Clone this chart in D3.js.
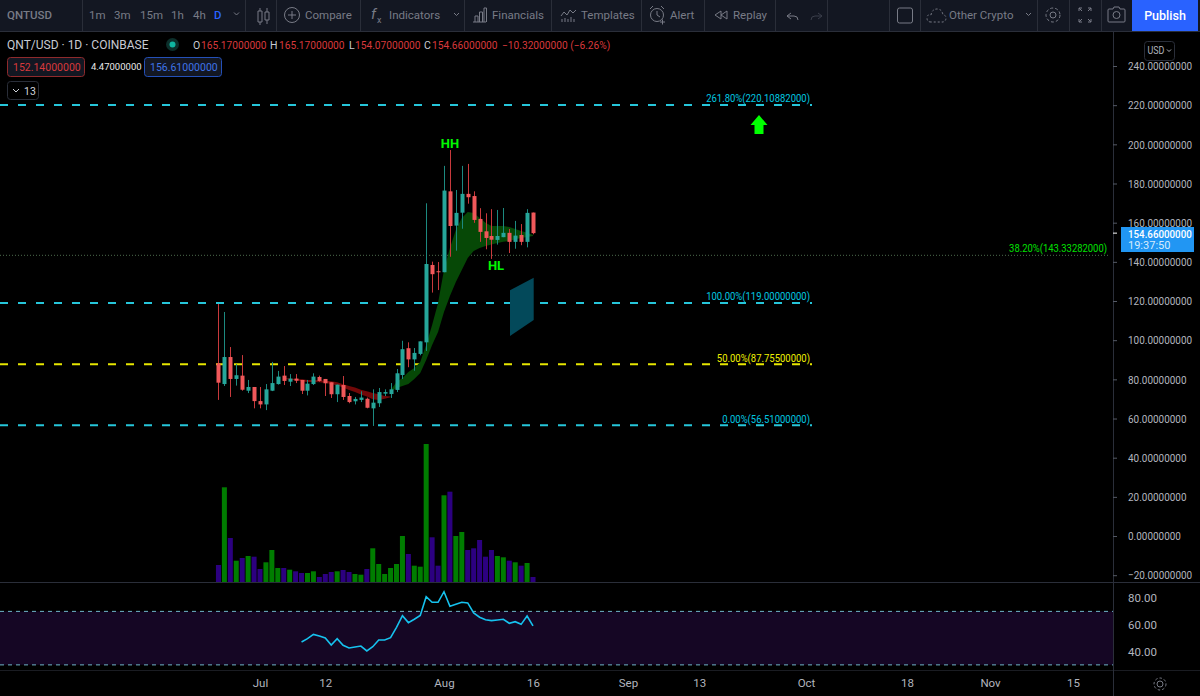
<!DOCTYPE html>
<html><head><meta charset="utf-8">
<script src="https://cdn.jsdelivr.net/npm/d3@7"></script>
<style>html,body{margin:0;padding:0;background:#000;overflow:hidden}svg{display:block}text{font-family:Roboto,sans-serif}</style>
</head><body><svg id="c" width="1200" height="696"></svg>
<script>
const opens =[88.2,77.6,91.4,80.2,81.9,74.2,76.1,68.9,67.2,74.2,77.6,81.9,78.8,80.4,79.7,74.2,77.6,81.2,80.2,78.5,72.4,77.1,71.5,68.8,69.5,70.1,65.2,67.8,72.7,72.5,74.6,82.2,95.9,90.2,93.0,98.9,138.4,135.2,134.7,176.0,158.5,165.1,174.7,173.6,161.9,155.6,153.2,151.2,152.6,154.8,150.2,153.7,150.2,165.17];
const highs =[118.5,114.4,96.5,87.8,92.4,79.7,76.1,76.1,77.6,88.9,84.3,86.8,82.7,82.7,79.7,79.7,83.1,81.9,80.2,78.5,77.3,81.7,73.0,71.0,73.9,70.7,74.9,75.6,74.9,78.1,85.3,99.7,98.9,96.0,99.4,169.9,140.1,139.9,189.0,197.1,176.7,189.0,190.0,176.0,167.4,164.8,166.9,166.5,167.5,156.8,160.9,159.3,166.9,165.17];
const lows  =[69.5,76.6,71.0,76.8,74.2,73.0,65.2,65.2,64.3,74.0,77.3,77.1,76.6,78.1,72.5,71.8,77.1,78.8,71.5,70.5,68.4,69.5,67.8,67.2,68.4,65.2,56.2,65.9,71.5,70.5,73.5,80.2,86.2,84.4,92.3,94.5,124.3,125.6,134.7,142.6,145.7,156.9,169.7,159.9,150.2,146.4,141.5,148.8,152.6,144.5,146.7,148.5,147.4,154.07];
const closes=[78.3,91.4,80.2,82.1,74.7,76.1,68.9,67.2,74.9,78.1,81.4,79.2,80.4,79.3,74.2,77.8,81.4,79.2,78.0,72.4,77.3,71.0,68.4,70.0,70.7,65.5,68.1,73.5,73.5,74.9,83.1,95.4,90.2,93.5,99.4,138.9,133.7,134.8,176.4,158.3,165.0,174.7,173.0,161.4,155.3,152.2,151.3,153.2,154.8,150.2,153.4,150.2,165.0,154.66];
const volumes=[17,94.7,44,21.3,24,26,25.3,13,19.7,32,14,14,12.3,10.7,9,9,10.7,5,8,10,10.7,12,10,8,7.3,13,33.7,18,8,14,18,46,28,16.3,15.3,138,44.7,16.3,86.7,90.3,46,50,32,33.7,42,25.3,32,26,24.7,21.3,19.7,16.3,19,5];
const volumeUp=[0,1,0,1,0,1,0,0,1,1,1,0,1,0,0,1,1,0,0,0,1,0,0,1,1,0,1,1,1,1,1,1,0,1,1,1,0,0,1,0,1,1,0,0,0,0,0,1,1,0,1,0,1,0];
const greenStart=29;
const greenUpper=[74.5,78.6,80.7,83.8,85.8,88.9,97.6,107.8,119,135.9,147.1,156.3,162.4,165.5,165,162.4,159.9,158.3,158.3,158.3,157.8,156.8,155.8,154.8,153.7];
const greenLower=[73.5,75.6,76.6,77.6,80.2,83.3,89.9,97.6,104.2,114.4,122.6,129.7,135.9,142,145.6,147.1,148.1,148.9,149.6,150.2,150.7,151.5,152.2,152.7,153.2];
const redStart=11;
const redUpper=[80.7,80.4,80.2,80,79.7,79.7,79.5,79.3,79,78.5,77.5,76.6,75.8,74.7,73.9,73,72.4,71.5,71.2];
const redLower=[80.4,79.8,79.5,79,78.6,78.6,78.5,78.1,77.6,76.9,75.8,74.6,73.5,72.3,71.2,69.8,69.5,70.1,70.8];
const rsiStart=14;
const rsiValues=[47.1,49.6,52.8,51.6,50.1,44.9,49.6,44.6,42.6,43.4,44.1,40.4,43.6,48.6,48.6,50.3,58.1,66.8,61.6,64.1,67.0,81.0,76.8,76.8,84.7,73.8,75.3,76.8,76.3,68.8,65.6,63.8,63.1,63.6,64.1,61.1,62.3,60.3,66.5,59.1];
const priceTicks=[240,220,200,180,160,140,120,100,80,60,40,20,0,-20];
const rsiTicks=[80,60,40];
const fibLevels=[
 {value:220.10882,label:"261.80%(220.10882000)",color:"#00c8e0",lineColor:"#26c6da"},
 {value:119,label:"100.00%(119.00000000)",color:"#00c8e0",lineColor:"#26c6da"},
 {value:87.755,label:"50.00%(87.75500000)",color:"#f0f000",lineColor:"#e6e600"},
 {value:56.51,label:"0.00%(56.51000000)",color:"#00c8e0",lineColor:"#26c6da"}];
const fib382={value:143.33282,label:"38.20%(143.33282000)"};
const timeTicks=[[2021,6,1,"Jul"],[2021,6,12,"12"],[2021,7,1,"Aug"],[2021,7,16,"16"],[2021,8,1,"Sep"],[2021,8,13,"13"],[2021,9,1,"Oct"],[2021,9,18,"18"],[2021,10,1,"Nov"],[2021,10,15,"15"]];
const firstDay=Date.UTC(2021,5,24);
const dayMs=864e5;

const svg=d3.select("#c");
const x=d3.scaleUtc().domain([Date.UTC(2021,6,1),Date.UTC(2021,10,1)]).range([260,990]);
const y=d3.scaleLinear().domain([-20,240]).range([575.2,66]);
const yV=d3.scaleLinear().domain([0,138]).range([582,444]);
const yR=d3.scaleLinear().domain([40,80]).range([651.5,598]);
const xi=i=>x(firstDay+i*dayMs);
const bull="#26a69a",bear="#f0585a";
// squeeze a text horizontally: the reference font is narrower than Roboto
function narrow(sel,k){sel.each(function(){const t=d3.select(this);const x0=+t.attr("x")||0;t.attr("x",x0/k).attr("transform",`scale(${k},1)`);});return sel;}

svg.append("rect").attr("width",1200).attr("height",696).attr("fill","#000");

// RSI band
svg.append("rect").attr("x",0).attr("width",1113).attr("y",yR(70)).attr("height",yR(30)-yR(70)).attr("fill","#150624");
[70,30].forEach(v=>svg.append("line").attr("x1",0).attr("x2",1113).attr("y1",yR(v)).attr("y2",yR(v)).attr("stroke","#6fb4c8").attr("stroke-width",1).attr("stroke-dasharray","4 4"));

// fib lines
fibLevels.forEach(f=>{
 svg.append("line").attr("x1",0).attr("x2",812).attr("y1",y(f.value)).attr("y2",y(f.value)).attr("stroke",f.lineColor).attr("stroke-width",2).attr("stroke-dasharray","8 10");
 svg.append("text").attr("x",810).attr("y",y(f.value)-2.5).attr("text-anchor","end").attr("fill",f.color).attr("font-size",10.5).text(f.label).call(narrow,0.905);
});
svg.append("line").attr("x1",0).attr("x2",1110).attr("y1",y(fib382.value)).attr("y2",y(fib382.value)).attr("stroke","#4d6b4d").attr("stroke-width",1).attr("stroke-dasharray","1 2");
svg.append("text").attr("x",1107).attr("y",y(fib382.value)-3).attr("text-anchor","end").attr("fill","#00e000").attr("font-size",10.5).text(fib382.label).call(narrow,0.9);

// clouds
const cloud=d3.area().x(d=>xi(d.i)).y0(d=>y(d.lo)).y1(d=>y(d.up));
svg.append("path").attr("d",cloud(redUpper.map((u,k)=>({i:redStart+k,up:u,lo:redLower[k]})))).attr("fill","#720808");
svg.append("path").attr("d",cloud(greenUpper.map((u,k)=>({i:greenStart+k,up:u,lo:greenLower[k]})))).attr("fill","#064806");

// teal box (projection zone)
svg.append("path").attr("d",d3.line()([[510,y(125.5)],[533.7,y(131.9)],[533.7,y(110.3)],[510,y(102.1)]])+"Z").attr("fill","#03495a");

// volume
svg.append("g").selectAll("rect").data(volumes).join("rect")
 .attr("x",(d,i)=>xi(i)-2.5).attr("width",5).attr("y",d=>yV(d)).attr("height",d=>yV(0)-yV(d))
 .attr("fill",(d,i)=>volumeUp[i]?"#007d00":"#2c0080");

// candles
const idx=d3.range(opens.length);
const g=svg.append("g");
g.selectAll("line").data(idx).join("line")
 .attr("x1",i=>Math.round(xi(i))+.5).attr("x2",i=>Math.round(xi(i))+.5)
 .attr("y1",i=>y(highs[i])).attr("y2",i=>y(lows[i]))
 .attr("stroke",i=>closes[i]>=opens[i]?"#1c8a80":"#c8393c").attr("stroke-width",1);
g.selectAll("rect").data(idx).join("rect")
 .attr("x",i=>Math.round(xi(i))-1.5).attr("width",4)
 .attr("y",i=>y(Math.max(opens[i],closes[i])))
 .attr("height",i=>Math.max(1,Math.abs(y(opens[i])-y(closes[i]))))
 .attr("fill",i=>closes[i]>=opens[i]?bull:bear);

// annotations
[["HH",450,148],["HL",496,270]].forEach(t=>svg.append("text").attr("x",t[1]).attr("y",t[2]).attr("text-anchor","middle").attr("fill","#00f800").attr("font-size",13).attr("font-weight",700).text(t[0]));
svg.append("path").attr("d","M759 115 L767.5 125 L763.5 125 L763.5 134 L754.5 134 L754.5 125 L750.5 125 Z").attr("fill","#00ff00");

// RSI line
svg.append("path").attr("fill","none").attr("stroke","#16c2ee").attr("stroke-width",1.6)
 .attr("d",d3.line().x((d,k)=>xi(rsiStart+k)).y(d=>yR(d))(rsiValues));

// pane separators & axis background
svg.append("rect").attr("x",1113).attr("y",31).attr("width",87).attr("height",665).attr("fill","#000");
svg.append("line").attr("x1",0).attr("x2",1113).attr("y1",582.5).attr("y2",582.5).attr("stroke","#2a2e39");
svg.append("line").attr("x1",0).attr("x2",1200).attr("y1",670.5).attr("y2",670.5).attr("stroke","#1a1c22");
svg.append("line").attr("x1",1113.5).attr("x2",1113.5).attr("y1",31).attr("y2",696).attr("stroke","#2a2e39");
svg.append("line").attr("x1",1113).attr("x2",1200).attr("y1",582.5).attr("y2",582.5).attr("stroke","#2a2e39");

// axes
function style(a){a.select(".domain").remove();a.selectAll("line").attr("stroke","#555a66");a.selectAll("text").attr("fill","#b2b5be").attr("font-size",11.5);}
svg.append("g").attr("transform","translate(1113,0)").call(d3.axisRight(y).tickValues(priceTicks).tickSize(4).tickPadding(11).tickFormat(d3.format(".8f"))).call(style)
 .selectAll("text").call(narrow,0.865);
svg.append("g").attr("transform","translate(1113,0)").call(d3.axisRight(yR).tickValues(rsiTicks).tickSize(0).tickPadding(15).tickFormat(d3.format(".2f"))).call(style);
const tDates=timeTicks.map(t=>Date.UTC(t[0],t[1],t[2]));
const tLabels=timeTicks.map(t=>t[3]);
svg.append("g").attr("transform","translate(0,672)").call(d3.axisBottom(x).tickValues(tDates).tickSize(0).tickPadding(7).tickFormat((d,i)=>tLabels[i])).call(style);

// last price label
svg.append("rect").attr("x",1121).attr("y",227).attr("width",73).attr("height",25).attr("fill","#2196f3");
svg.append("line").attr("x1",1113).attr("x2",1117).attr("y1",y(154.66)).attr("y2",y(154.66)).attr("stroke","#fff");
svg.append("text").attr("x",1128).attr("y",238).attr("fill","#fff").attr("font-size",11.5).attr("font-weight",500).text("154.66000000").call(narrow,0.85);
svg.append("text").attr("x",1128).attr("y",249).attr("fill","#d6ebfc").attr("font-size",11).text("19:37:50");

// usd box
svg.append("rect").attr("x",1144.5).attr("y",41.5).attr("width",30).attr("height",19).attr("rx",3).attr("fill","none").attr("stroke","#2a2e39");
svg.append("text").attr("x",1147.5).attr("y",54.5).attr("fill","#b2b5be").attr("font-size",10.5).text("USD").call(narrow,0.85);
svg.append("path").attr("d","M1167 49.5l2 2 2-2").attr("fill","none").attr("stroke","#b2b5be");

// top bar
const bar=svg.append("g");
bar.append("rect").attr("width",1200).attr("height",31).attr("fill","#131722");
bar.append("line").attr("x1",0).attr("x2",1200).attr("y1",31.5).attr("y2",31.5).attr("stroke","#2a2e39");
[82,245,276,360,464,551,641,704,775,827,889,920,1037,1069,1101].forEach(s=>bar.append("line").attr("x1",s+.5).attr("x2",s+.5).attr("y1",0).attr("y2",31).attr("stroke","#2a2e39"));
const gray="#787b86";
const tb=(t,xp,fill,w)=>bar.append("text").attr("x",xp).attr("y",19).attr("fill",fill||gray).attr("font-size",11.5).attr("font-weight",w||400).text(t);
tb("QNTUSD",7,gray,500);
[["1m",89],["3m",114],["15m",140],["1h",171],["4h",193]].forEach(d=>tb(d[0],d[1]));
tb("D",214,"#2962ff",500);
tb("Compare",305);tb("Indicators",389);tb("Financials",492);tb("Templates",581);tb("Alert",670);tb("Replay",733);tb("Other Crypto",949);
const icons=bar.append("g").attr("transform","translate(0,-2)");
const ic=d=>icons.append("path").attr("d",d).attr("fill","none").attr("stroke",gray).attr("stroke-width",1);
ic("M234 14.5l2.5 2.5 2.5-2.5");
ic("M454 15l2.5 2.5 2.5-2.5");
ic("M1026 15l2.5 2.5 2.5-2.5");
ic("M258 13h4v11h-4zM260 10v3M260 24v3M265 14h4v8h-4zM267 10v4M267 22v4");
icons.append("circle").attr("cx",292).attr("cy",17).attr("r",7.5).attr("fill","none").attr("stroke",gray);
ic("M288 17h8M292 13v8");
icons.append("text").attr("x",371).attr("y",21).attr("fill",gray).attr("font-size",15).attr("font-style","italic").text("f");
icons.append("text").attr("x",377).attr("y",25).attr("fill",gray).attr("font-size",9).text("x");
ic("M473 24h13M475 24v-6h3v6M479.5 24v-10h3v10M484 24v-14h2.500v14");
ic("M561 18l3-4 3 3 3-5 3 3 3-3M562 24v-3M565 24v-4M568 24v-3M571 24v-5M574 24v-3");
icons.append("circle").attr("cx",657).attr("cy",17).attr("r",6.500).attr("fill","none").attr("stroke",gray);
ic("M657 13v4l3 2M650 11l3-3M664 11l-3-3M660 24h5M662.500 21.500v5");
ic("M721 13l-6 4 6 4zM727 13l-6 4 6 4z");
ic("M791 15l-4 3 4 3M787 18h7q4 0 4 4");
icons.append("path").attr("d","M818 15l4 3-4 3M822 18h-7q-4 0-4 4").attr("fill","none").attr("stroke","#3a3e4a");
icons.append("rect").attr("x",897.500).attr("y",10).attr("width",15).attr("height",15).attr("rx",2).attr("fill","none").attr("stroke",gray);
ic("M931 24q-4 0-4-4t4-3q1-6 6-6t6 6q3 0 3 3t-3 4z").attr("stroke-dasharray","2 2");
icons.append("circle").attr("cx",1053).attr("cy",17).attr("r",3).attr("fill","none").attr("stroke",gray);
icons.append("circle").attr("cx",1053).attr("cy",17).attr("r",7).attr("fill","none").attr("stroke",gray).attr("stroke-dasharray","3 2");
ic("M1079 13v-3h3M1088 10h3v3M1079 21v3h3M1088 24h3v-3M1079 10l3 3M1091 10l-3 3M1079 24l3-3M1091 24l-3-3");
ic("M1109 11h4l1-2h5l1 2h4q1 0 1 1v11q0 1-1 1h-15q-1 0-1-1v-11q0-1 1-1z");
icons.append("circle").attr("cx",1116.500).attr("cy",17).attr("r",3.500).attr("fill","none").attr("stroke",gray);
bar.append("rect").attr("x",1132).attr("y",0).attr("width",66).attr("height",31).attr("fill","#2962ff");
bar.append("text").attr("x",1165).attr("y",19.5).attr("text-anchor","middle").attr("fill","#fff").attr("font-size",12.5).attr("font-weight",500).text("Publish");

// legend
const lg=(t,xp,fill,fs,yy)=>svg.append("text").attr("x",xp).attr("y",yy||49).attr("fill",fill).attr("font-size",fs||11).text(t);
lg("QNT/USD · 1D · COINBASE",7,"#c8cbd3",12);
svg.append("circle").attr("cx",172.500).attr("cy",44.500).attr("r",6.500).attr("fill","#0c2f2b");
svg.append("circle").attr("cx",172.500).attr("cy",44.500).attr("r",3).attr("fill","#0fb5a0");
const red="#d8393c";
[["O",193,"165.17000000",201],["H",270,"165.17000000",279],["L",349,"154.07000000",355],["C",424,"154.66000000",432]].forEach(d=>{lg(d[0],d[1],"#c8cbd3",10.5);lg(d[2],d[3],red,10.5).call(narrow,0.97);});
lg("−10.32000000 (−6.26%)",502,red,10.5).call(narrow,0.97);
const boxes=[[7,"152.14000000","#8f2a2c","#d8393c"],[144,"156.61000000","#2450b8","#3f74e8"]];
boxes.forEach(b=>{
 svg.append("rect").attr("x",b[0]+.5).attr("y",57.500).attr("width",77).attr("height",19).attr("rx",3).attr("fill","#131722").attr("stroke",b[2]);
 svg.append("text").attr("x",b[0]+6).attr("y",71).attr("fill",b[3]).attr("font-size",10.5).text(b[1]);
});
lg("4.47000000",91,"#e8e8e8",9.5,70);
svg.append("rect").attr("x",7.500).attr("y",81.500).attr("width",31).attr("height",18).attr("rx",3).attr("fill","none").attr("stroke","#2a2e39");
svg.append("path").attr("d","M13 89l3 3 3-3").attr("fill","none").attr("stroke","#d1d4dc");
lg("13",24,"#d1d4dc",10.5,95);

// gear bottom
svg.append("circle").attr("cx",1160).attr("cy",684).attr("r",3).attr("fill","none").attr("stroke",gray);
svg.append("circle").attr("cx",1160).attr("cy",684).attr("r",6).attr("fill","none").attr("stroke",gray).attr("stroke-dasharray","2.500 2");
</script></body></html>
